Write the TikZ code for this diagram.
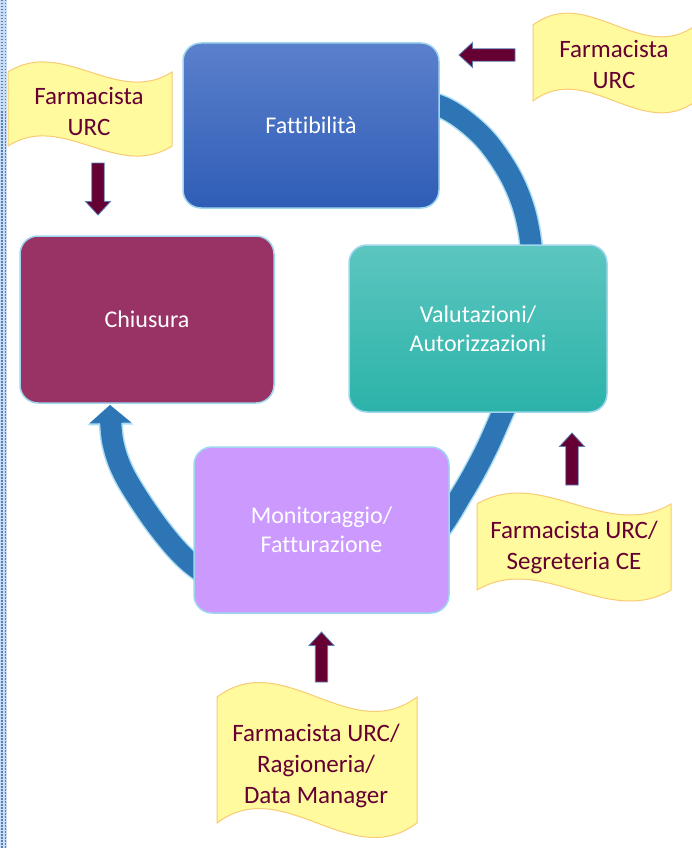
\documentclass[tikz,border=0pt]{standalone}
\usepackage{fontspec}
\setmainfont[Ligatures=NoCommon]{Carlito}
\usetikzlibrary{arrows.meta}
\definecolor{ringblue}{HTML}{2E75B6}
\definecolor{ringglow}{HTML}{A9DCF2}
\definecolor{darkmaroon}{HTML}{660033}
\definecolor{arrowedge}{HTML}{5B7DB5}
\definecolor{fatTop}{HTML}{5B80CC}
\definecolor{fatBot}{HTML}{2F5DB6}
\definecolor{valTop}{HTML}{5CC6BF}
\definecolor{valBot}{HTML}{2BB3A9}
\definecolor{chiuFill}{HTML}{993366}
\definecolor{monFill}{HTML}{CC99FF}
\definecolor{boxedge}{HTML}{9ED6EE}
\definecolor{waveFill}{HTML}{FFFA9E}
\definecolor{waveEdge}{HTML}{F9CB72}
\definecolor{stripbg}{HTML}{C9DCF3}
\definecolor{stripblue}{HTML}{4F81BD}
\newcommand{\wavelabel}[5]{%
  \filldraw[wave] (#1,#3) .. controls ({#1+(#2-#1)/3},{#3-#5}) and ({#1+2*(#2-#1)/3},{#3+#5}) .. (#2,#3)
    -- (#2,#4) .. controls ({#1+2*(#2-#1)/3},{#4+#5}) and ({#1+(#2-#1)/3},{#4-#5}) .. (#1,#4) -- cycle;}
% block arrow: #1 = name, #2 = centre, #3 = rotation, #4 = total length
\newcommand{\blockarrow}[4]{%
  \begin{scope}[shift={#2}, rotate=#3]
    \coordinate (#1) at (0,0);
    \filldraw[fatarrow] ({-#4/2},-6.2) -- ({#4/2-13.5},-6.2) -- ({#4/2-13.5},-12.5) -- ({#4/2},0)
      -- ({#4/2-13.5},12.5) -- ({#4/2-13.5},6.2) -- ({-#4/2},6.2) -- cycle;
  \end{scope}}
\tikzset{
  box/.style={rounded corners=18pt, draw=boxedge, line width=1.5pt, text=white,
    font=\fontsize{24}{29}\selectfont, align=center, inner sep=0pt},
  wave/.style={fill=waveFill, draw=waveEdge, line width=1pt},
  lbl/.style={text=darkmaroon, font=\fontsize{25}{31}\selectfont, align=center, inner sep=0pt},
  fatarrow/.style={fill=darkmaroon, draw=arrowedge, line width=0.8pt, line join=miter},
}
\begin{document}
\begin{tikzpicture}[x=1pt,y=-1pt]
\useasboundingbox (0,0) rectangle (691,848);
% left strip
\fill[stripbg] (0,0) rectangle (7,848);
\draw[stripblue, line width=1.4pt, dash pattern=on 1.5pt off 1.5pt] (2,0) -- (2,848);
\draw[stripblue, line width=1.4pt, dash pattern=on 1.5pt off 1.5pt] (5.2,0) -- (5.2,848);
% cycle ring
\def\ringpts{(380,94) (440,106) (480,134) (507,170) (523,206) (531,245) (534,300) (526,360) (503,412) (485,452) (463,492) (432,538) (375,582) (300,600) (240,592) (193,565) (159,528) (126,478) (113,443) (110,405)}
\draw[ringglow, line width=24pt, -{Triangle[width=46pt,length=20pt,line width=0pt]}] plot[smooth, tension=0.55] coordinates {\ringpts};
\draw[ringblue, line width=21pt, -{Triangle[width=42pt,length=18pt,line width=0pt]}] plot[smooth, tension=0.55] coordinates {\ringpts};
% boxes
\node[box, top color=fatTop, bottom color=fatBot, minimum width=256pt, minimum height=165pt] (fat) at (311,125.5) {Fattibilità};
\node[box, top color=valTop, bottom color=valBot, minimum width=258pt, minimum height=167pt] (val) at (478,328.5) {Valutazioni/\\Autorizzazioni};
\node[box, fill=monFill, minimum width=255pt, minimum height=166pt] (mon) at (321.5,530) {Monitoraggio/\\Fatturazione};
\node[box, fill=chiuFill, minimum width=254pt, minimum height=167pt] (chiu) at (147,319.5) {Chiusura};
% wave labels
\wavelabel{8}{172}{72}{146}{35}
\node[lbl] (w1) at (89,111) {Farmacista\\URC};
\wavelabel{533}{696}{25}{101}{41}
\node[lbl] (w2) at (614,64.5) {Farmacista\\URC};
\wavelabel{477}{671}{504}{590}{38}
\node[lbl] (w3) at (574,547.5) {Farmacista URC/\\Segreteria CE};
\wavelabel{217}{417}{697}{823}{50}
\node[lbl] (w4) at (316,766) {Farmacista URC/\\Ragioneria/\\Data Manager};
% block arrows
\blockarrow{a1}{(98,189)}{-90}{52}
\blockarrow{a2}{(487,55)}{180}{56}
\blockarrow{a3}{(572,459)}{90}{52}
\blockarrow{a4}{(321.5,657)}{90}{50}
\end{tikzpicture}
\end{document}
